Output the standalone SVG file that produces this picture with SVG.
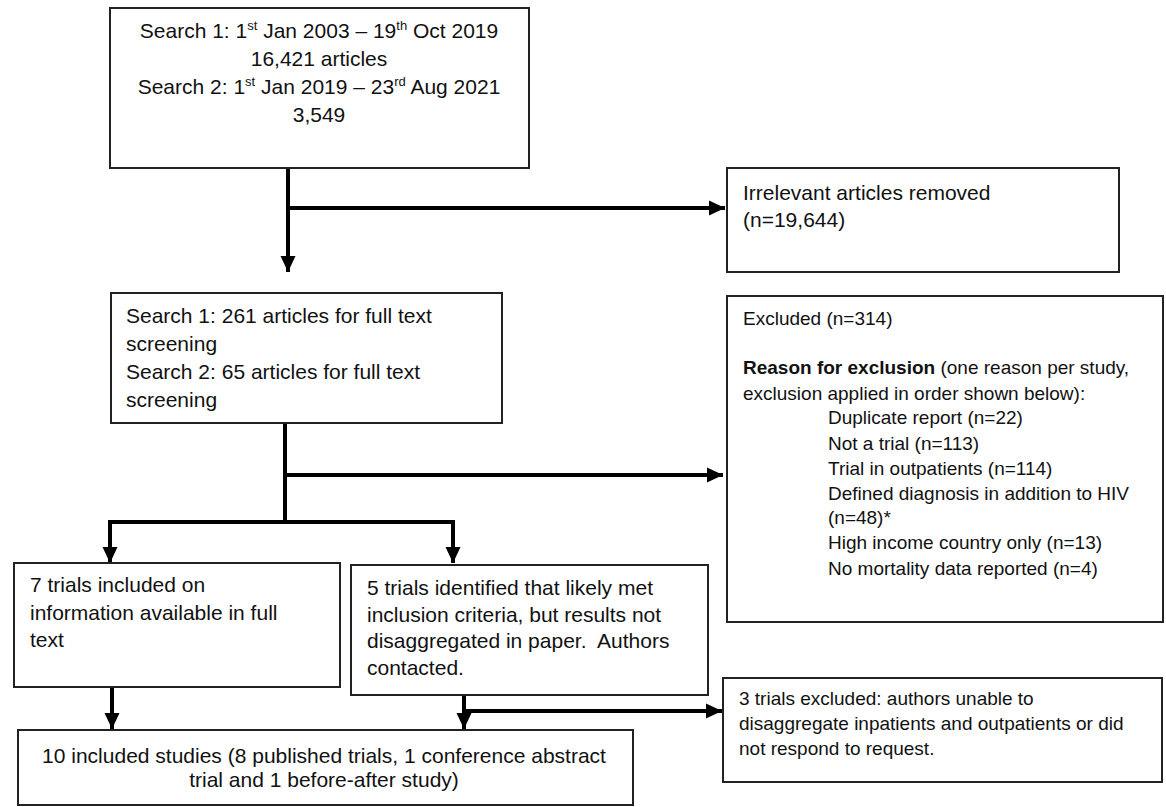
<svg xmlns="http://www.w3.org/2000/svg" width="1166" height="807" viewBox="0 0 1166 807">
<style>
.box{fill:#fff;stroke:#222;stroke-width:2}
.t{font-family:"Liberation Sans",Arial,sans-serif;font-size:21px;fill:#111}
.s{font-family:"Liberation Sans",Arial,sans-serif;font-size:19px;fill:#111}
.c{text-anchor:middle}
.conn{fill:none;stroke:#000;stroke-width:4}
</style>
<defs>
<marker id="ah" markerUnits="userSpaceOnUse" markerWidth="18" markerHeight="18" viewBox="0 0 18 18" refX="16" refY="9" orient="auto">
<path d="M0,1.5 L16,9 L0,16.5 Z" fill="#000"/>
</marker>
</defs>
<rect width="1166" height="807" fill="#fff"/>
<g id="connectors">
<path class="conn" d="M288,168 V272" marker-end="url(#ah)"/>
<path class="conn" d="M288,208 H725" marker-end="url(#ah)"/>
<path class="conn" d="M285,423 V522"/>
<path class="conn" d="M110,522 H455"/>
<path class="conn" d="M110,520 V563" marker-end="url(#ah)"/>
<path class="conn" d="M453,520 V563" marker-end="url(#ah)"/>
<path class="conn" d="M285,475 H723" marker-end="url(#ah)"/>
<path class="conn" d="M112,687 V729" marker-end="url(#ah)"/>
<path class="conn" d="M464,695 V729" marker-end="url(#ah)"/>
<path class="conn" d="M464,711 H722" marker-end="url(#ah)"/>
</g>
<g id="n-search">
<rect class="box" x="110" y="8" width="419" height="160"/>
<text class="t c" x="319" y="38">Search 1: 1<tspan font-size="13" dy="-8">st</tspan><tspan dy="8"> Jan 2003 – 19</tspan><tspan font-size="13" dy="-8">th</tspan><tspan dy="8"> Oct 2019</tspan></text>
<text class="t c" x="319" y="66">16,421 articles</text>
<text class="t c" x="319" y="94">Search 2: 1<tspan font-size="13" dy="-8">st</tspan><tspan dy="8"> Jan 2019 – 23</tspan><tspan font-size="13" dy="-8">rd</tspan><tspan dy="8"> Aug 2021</tspan></text>
<text class="t c" x="319" y="122">3,549</text>
</g>
<g id="n-irrelevant">
<rect class="box" x="727" y="168" width="392" height="104"/>
<text class="t" x="743" y="200">Irrelevant articles removed</text>
<text class="t" x="743" y="227">(n=19,644)</text>
</g>
<g id="n-fulltext">
<rect class="box" x="111" y="293" width="391" height="130"/>
<text class="t" x="126" y="323">Search 1: 261 articles for full text</text>
<text class="t" x="126" y="351">screening</text>
<text class="t" x="126" y="379">Search 2: 65 articles for full text</text>
<text class="t" x="126" y="407">screening</text>
</g>
<g id="n-excluded">
<rect class="box" x="727" y="296" width="436" height="326"/>
<text class="s" x="743" y="325">Excluded (n=314)</text>
<text class="s" x="743" y="374"><tspan font-weight="bold">Reason for exclusion</tspan> (one reason per study,</text>
<text class="s" x="743" y="400">exclusion applied in order shown below):</text>
<text class="s" x="828" y="424">Duplicate report (n=22)</text>
<text class="s" x="828" y="450">Not a trial (n=113)</text>
<text class="s" x="828" y="475">Trial in outpatients (n=114)</text>
<text class="s" x="828" y="500">Defined diagnosis in addition to HIV</text>
<text class="s" x="828" y="524">(n=48)*</text>
<text class="s" x="828" y="549">High income country only (n=13)</text>
<text class="s" x="828" y="575">No mortality data reported (n=4)</text>
</g>
<g id="n-seven">
<rect class="box" x="14" y="563" width="326" height="124"/>
<text class="t" x="30" y="592">7 trials included on</text>
<text class="t" x="30" y="620">information available in full</text>
<text class="t" x="30" y="647">text</text>
</g>
<g id="n-five">
<rect class="box" x="351" y="565" width="357" height="130"/>
<text class="t" x="367" y="595">5 trials identified that likely met</text>
<text class="t" x="367" y="622">inclusion criteria, but results not</text>
<text class="t" x="367" y="648" xml:space="preserve">disaggregated in paper.  Authors</text>
<text class="t" x="367" y="675">contacted.</text>
</g>
<g id="n-three">
<rect class="box" x="723" y="678" width="439" height="104"/>
<text class="s" x="739" y="705">3 trials excluded: authors unable to</text>
<text class="s" x="739" y="730">disaggregate inpatients and outpatients or did</text>
<text class="s" x="739" y="755">not respond to request.</text>
</g>
<g id="n-included">
<rect class="box" x="18" y="730" width="615" height="75"/>
<text class="t c" x="324" y="763">10 included studies (8 published trials, 1 conference abstract</text>
<text class="t c" x="324" y="787">trial and 1 before-after study)</text>
</g>
</svg>
